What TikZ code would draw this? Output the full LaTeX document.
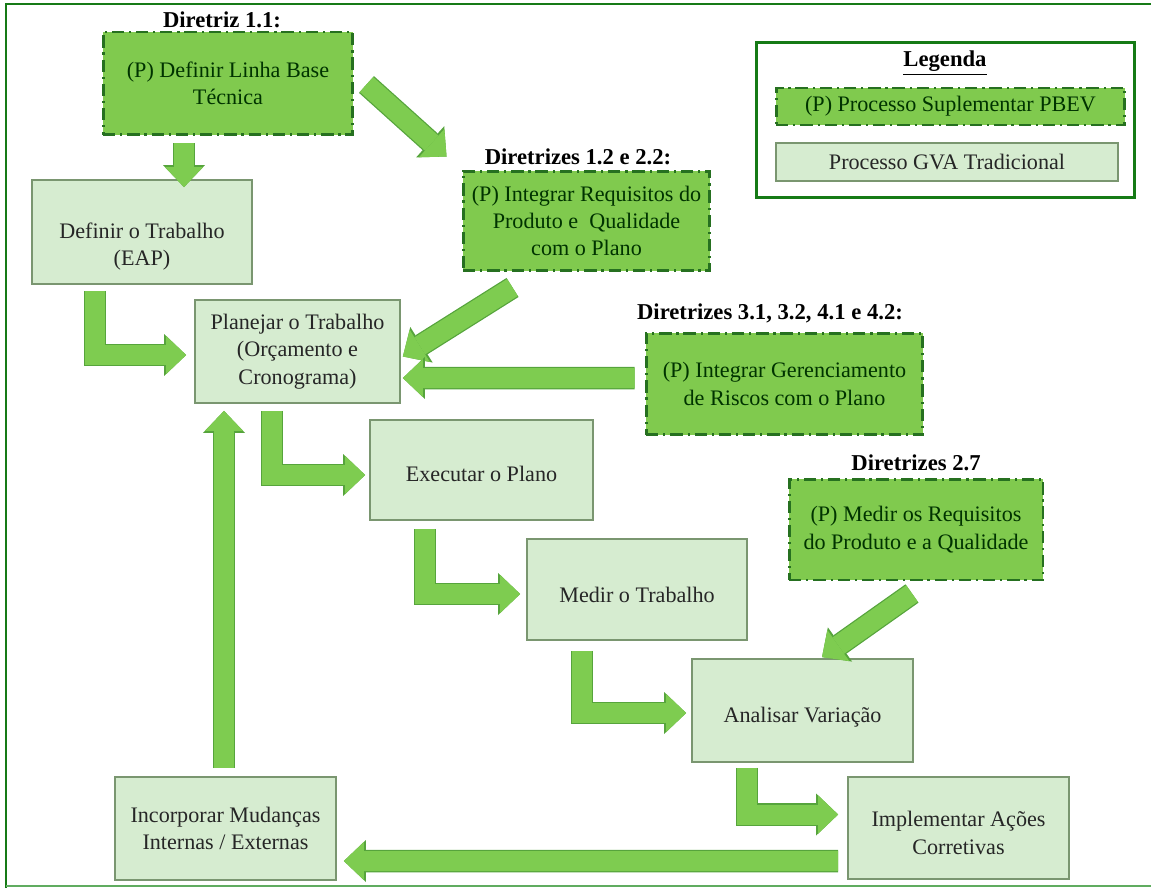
\documentclass[tikz,border=0pt]{standalone}
\usepackage{fontspec}
\setmainfont{Liberation Serif}
\usepackage{tikz}
\usetikzlibrary{arrows.meta}
\definecolor{pb_fill}{RGB}{128, 202, 78}
\definecolor{pb_line}{RGB}{38, 112, 32}
\definecolor{gv_fill}{RGB}{214, 236, 208}
\definecolor{gv_line}{RGB}{122, 150, 112}
\definecolor{ar_fill}{RGB}{126, 204, 80}
\definecolor{ar_line}{RGB}{86, 164, 60}
\definecolor{fr_dark}{RGB}{22, 122, 22}
\definecolor{fr_light}{RGB}{96, 172, 96}
\tikzstyle{pb}=[rectangle,fill=pb_fill,draw=pb_line,line width=1.7pt,
  dash pattern=on 7pt off 2.8pt on 1.2pt off 2.8pt,inner sep=0pt,
  align=center,text=black!80!green]
\tikzstyle{gv}=[rectangle,fill=gv_fill,draw=gv_line,line width=1pt,
  inner sep=0pt,align=center,text=black!85]
\tikzstyle{dl}=[font=\fontsize{12.9}{16}\selectfont\bfseries]
\tikzstyle{ba}=[draw=ar_fill,line width=0.4cm,
  -{Triangle[width=0.76cm,length=0.4cm,line width=0pt]},
  preaction={draw=ar_line,line width=0.45cm,
    -{Triangle[width=0.84cm,length=0.44cm,line width=0pt]}}]

\begin{document}
\begin{tikzpicture}[x=0.02cm,y=-0.02cm,font=\fontsize{12.6}{15.6}\selectfont]
    \useasboundingbox (0,0) rectangle (1151,888);
    % moldura
    \draw [fr_dark,line width=1.7pt] (1151,4) -- (6,4) -- (6,888);
    \draw [fr_light,line width=1.2pt] (6,886) -- (1151,886);

    % legenda
    \node [draw=fr_dark,line width=1.7pt,minimum width=7.58cm,minimum height=3.12cm] (leg) at (945.5,120) {};
    \node [style=dl] (legt) at (945,63) {\underline{Legenda}};
    \node [style=pb,minimum width=6.98cm,minimum height=0.74cm] (legp) at (950.5,106.5) {(P) Processo Suplementar PBEV};
    \node [style=gv,minimum width=6.84cm,minimum height=0.76cm] (legg) at (947,162) {Processo GVA Tradicional};

    % diretrizes
    \node [style=dl] (d11) at (222,20) {Diretriz 1.1:};
    \node [style=dl] (d12) at (578,157) {Diretrizes 1.2 e 2.2:};
    \node [style=dl] (d31) at (770,313) {Diretrizes 3.1, 3.2, 4.1 e 4.2:};
    \node [style=dl] (d27) at (916,463) {Diretrizes 2.7};

    % processos PBEV
    \node [style=pb,minimum width=5cm,minimum height=2.06cm] (base) at (228,83.5) {(P) Definir Linha Base\\Técnica};
    \node [style=pb,minimum width=4.94cm,minimum height=2cm] (req) at (586.5,221) {(P) Integrar Requisitos do\\Produto e\ \ Qualidade\\com o Plano};
    \node [style=pb,minimum width=5.54cm,minimum height=2.04cm] (risk) at (784.5,384) {(P) Integrar Gerenciamento\\de Riscos com o Plano};
    \node [style=pb,minimum width=5.08cm,minimum height=2.02cm] (mreq) at (916,529.5) {(P) Medir os Requisitos\\do Produto e a Qualidade};

    % processos GVA
    \node [style=gv,minimum width=4.4cm,minimum height=2.08cm] (def) at (142,232) {\rule{0pt}{0.9cm}Definir o Trabalho\\(EAP)};
    \node [style=gv,minimum width=4.1cm,minimum height=2.06cm] (plan) at (297.5,351.5) {Planejar o Trabalho\\(Orçamento e\\Cronograma)};
    \node [style=gv,minimum width=4.46cm,minimum height=2cm] (exec) at (481.5,470) {\rule{0pt}{0.46cm}Executar o Plano};
    \node [style=gv,minimum width=4.4cm,minimum height=2.02cm] (meas) at (637,589.5) {\rule{0pt}{0.54cm}Medir o Trabalho};
    \node [style=gv,minimum width=4.42cm,minimum height=2.06cm] (anal) at (802.5,710.5) {\rule{0pt}{0.58cm}Analisar Variação};
    \node [style=gv,minimum width=4.42cm,minimum height=2.04cm] (impl) at (958.5,828) {\rule{0pt}{0.5cm}Implementar Ações\\Corretivas};
    \node [style=gv,minimum width=4.42cm,minimum height=2.06cm] (inc) at (225.5,828.5) {Incorporar Mudanças\\Internas / Externas};

    % setas
    \draw [style=ba] ([shift={(-44,7)}]base.south) to ([shift={(42,8)}]def.north);
    \draw [style=ba] ([shift={(12,1)}]base.east) to ([shift={(-15,-13)}]req.north west);
    \draw [style=ba] ([shift={(-74,15)}]req.south) to ([shift={(2,5)}]plan.east);
    \draw [style=ba] ([shift={(-10,-6)}]risk.west) to ([shift={(2,26.5)}]plan.east);
    \draw [style=ba] ([shift={(-47,6)}]def.south) |- ([shift={(-8,3.5)}]plan.west);
    \draw [style=ba] ([shift={(-25.5,7)}]plan.south) |- ([shift={(-4,5)}]exec.west);
    \draw [style=ba] ([shift={(-56.5,8)}]exec.south) |- ([shift={(-6,4.5)}]meas.west);
    \draw [style=ba] ([shift={(-55,10)}]meas.south) |- ([shift={(-5,2.5)}]anal.west);
    \draw [style=ba] ([shift={(-55.5,5)}]anal.south) |- ([shift={(-9,-13.5)}]impl.west);
    \draw [style=ba] ([shift={(-4,12)}]mreq.south) to ([shift={(19.5,-1)}]anal.north);
    \draw [style=ba] ([shift={(-9,33)}]impl.west) to ([shift={(7,32.5)}]inc.east);
    \draw [style=ba] ([shift={(-1.5,-8)}]inc.north) to ([shift={(-73.5,7)}]plan.south);
\end{tikzpicture}
\end{document}
